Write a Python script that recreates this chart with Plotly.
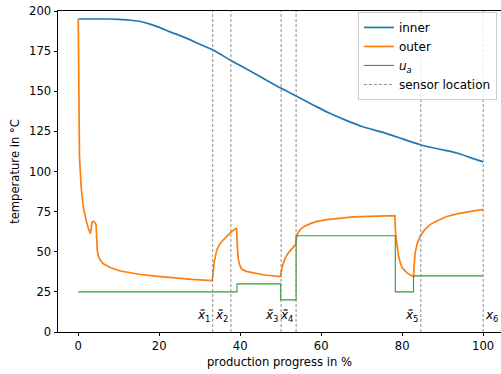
import plotly.graph_objects as go

# ---- data ----
inner_x = [0, 5, 8, 10, 12.5, 15, 17.5, 20, 22.7, 25, 27.7, 30, 33.2, 35.5, 37.8, 40, 45, 50,
           53.8, 58, 62, 66, 70.5, 75, 78.7, 84.5, 89, 93.5, 97, 100]
inner_y = [195, 195, 195, 194.8, 194.4, 193.6, 192, 189.8, 187, 184.8, 182, 179.3, 175.8, 172.5,
           169, 166, 159, 152, 147, 141.5, 136.4, 132, 127.7, 124.5, 121.5, 116.7, 114, 111.5, 108.5, 106]

outer_x = [0, 0.05, 0.15, 0.3, 0.5, 0.8, 1.3, 1.7, 2.1, 2.5, 2.8, 3.0, 3.2, 3.4, 3.7, 4.0, 4.4,
           4.55, 4.7, 5.0, 5.5, 6.2, 7.0, 8.0, 10.4, 12.5, 15, 19, 22.7, 28, 33.1,
           33.3, 33.6, 34.2, 35.0, 35.9, 36.8, 37.5, 38.3, 39.1,
           39.25, 39.5, 39.9, 40.4, 41.5, 43.3, 46, 49.9,
           50.1, 50.4, 50.7, 51.2, 51.9, 52.8, 53.7,
           53.85, 54.1, 54.8, 55.8, 57.3, 59, 61.4, 64, 68, 72, 75, 78.2,
           78.35, 78.7, 79.1, 79.5, 79.9, 80.5, 81.2, 82, 82.8,
           82.95, 83.2, 83.7, 84.4, 85.5, 86.9, 88.5, 91, 93.5, 96, 98, 100]
outer_y = [195, 160, 128, 110, 100, 88, 77, 72, 68, 64.5, 62.5, 61.3, 64.5, 68.5, 69, 68.5, 67,
           58, 51, 47, 44.5, 42.5, 41.2, 40, 38, 37, 36, 34.8, 33.8, 32.8, 32,
           38, 44, 51, 55, 57.6, 60, 61.7, 63.3, 64.8,
           55, 46, 41.5, 39, 37.8, 36.8, 35.5, 34.5,
           38, 41, 43.2, 46.5, 49.3, 52, 54.6,
           58, 61, 63.8, 65.8, 67.5, 68.9, 70, 70.8, 71.7, 72.1, 72.3, 72.5,
           62, 55.5, 47.2, 43.5, 40.5, 38.5, 36.8, 35.5, 34.5,
           42, 49.3, 55, 59.6, 63.6, 66.9, 69.2, 72, 73.6, 74.8, 75.6, 76.2]

ua_x = [0, 39.2, 50.0, 53.8, 78.3, 82.8, 100]
ua_y = [25, 30, 20, 60, 25, 35, 35]

sensor_x = [33.2, 37.7, 50.1, 53.8, 84.6, 100]
sensor_labels = ["<i>x̃</i><sub>1</sub>", "<i>x̃</i><sub>2</sub>", "<i>x̃</i><sub>3</sub>",
                 "<i>x̃</i><sub>4</sub>", "<i>x̃</i><sub>5</sub>", "<i>x</i><sub>6</sub>"]

x_ticks = [0, 20, 40, 60, 80, 100]
y_ticks = [0, 25, 50, 75, 100, 125, 150, 175, 200]

FONT = "DejaVu Sans"
FS = 11.6

fig = go.Figure()
fig.add_trace(go.Scatter(x=inner_x, y=inner_y, mode="lines", name="inner",
                         line=dict(color="#1f77b4", width=1.7, shape="spline", smoothing=0.8)))
fig.add_trace(go.Scatter(x=outer_x, y=outer_y, mode="lines", name="outer",
                         line=dict(color="#ff7f0e", width=1.7)))
fig.add_trace(go.Scatter(x=ua_x, y=ua_y, mode="lines", name="<i>u</i><sub><i>a</i></sub>",
                         line=dict(color="#2ca02c", width=1.1, shape="hv")))

sx, sy = [], []
for s in sensor_x:
    sx += [s, s, None]
    sy += [0, 200, None]
fig.add_trace(go.Scatter(x=sx, y=sy, mode="lines", name="sensor location",
                         line=dict(color="#808080", width=0.9, dash="3px,2px")))

for i, (s, lab) in enumerate(zip(sensor_x, sensor_labels)):
    last = i == len(sensor_x) - 1
    fig.add_annotation(x=s, y=10, text=lab, showarrow=False,
                       xanchor="left" if last else "right", yanchor="middle",
                       xshift=0 if last else -1,
                       font=dict(family=FONT, size=12, color="black"))

fig.update_layout(
    width=501, height=374,
    margin=dict(l=58, r=0, t=11, b=41.5, autoexpand=False),
    paper_bgcolor="white", plot_bgcolor="white",
    font=dict(family=FONT, size=FS, color="black"),
    showlegend=True,
    legend=dict(x=0.677, y=0.997, xanchor="left", yanchor="top",
                bgcolor="rgba(255,255,255,0.8)", bordercolor="#cccccc", borderwidth=1,
                font=dict(family=FONT, size=12, color="black"), tracegroupgap=0),
)
fig.update_xaxes(range=[-5, 104.4], tickvals=x_ticks, ticktext=[str(v) for v in x_ticks],
                 automargin=False, ticklabeloverflow="allow", tickfont=dict(size=FS),
                 showgrid=False, zeroline=False, showline=True, linecolor="black", linewidth=0.9,
                 mirror=True, ticks="outside", ticklen=3.5, tickwidth=0.9, tickcolor="black",
                 title=dict(text="production progress in %", font=dict(family=FONT, size=FS), standoff=5))
fig.update_yaxes(range=[0, 200], tickvals=y_ticks, ticktext=[str(v) for v in y_ticks],
                 automargin=False, ticklabeloverflow="allow", tickfont=dict(size=FS),
                 showgrid=False, zeroline=False, showline=True, linecolor="black", linewidth=0.9,
                 ticks="outside", ticklen=3.5, tickwidth=0.9, tickcolor="black",
                 title=dict(text="temperature in °C", font=dict(family=FONT, size=FS), standoff=7))

fig.write_html("out.html", config={"displayModeBar": False},
               post_script="document.body.style.margin='0';")
